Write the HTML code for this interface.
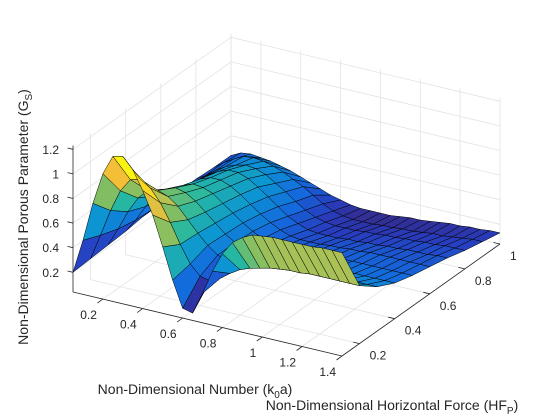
<!DOCTYPE html>
<html><head><meta charset="utf-8"><style>
html,body{margin:0;padding:0;background:#fff;}
svg{display:block;font-family:"Liberation Sans",Arial,sans-serif;}
</style></head><body>
<svg id="chart" width="560" height="420" viewBox="0 0 560 420" xmlns="http://www.w3.org/2000/svg">
<rect width="560" height="420" fill="#fff"/>
<g id="grid"></g>
<g id="axes"></g>
<g id="surf"></g>
<text x="195" y="394" font-size="14" text-anchor="middle" fill="#262626">Non-Dimensional Number (k<tspan font-size="10" dy="4">0</tspan><tspan dy="-4">a)</tspan></text>
<text x="392" y="410" font-size="14" text-anchor="middle" fill="#262626">Non-Dimensional Horizontal Force (HF<tspan font-size="10" dy="4">P</tspan><tspan dy="-4">)</tspan></text>
<text transform="translate(28,217) rotate(-90)" font-size="14" text-anchor="middle" fill="#262626">Non-Dimensional Porous Parameter (G<tspan font-size="10" dy="4">S</tspan><tspan dy="-4">)</tspan></text>
</svg>
<script>
// Data: x = k0a, y = HF_P, z = G_S
const xVals = [0.05,0.10,0.15,0.20,0.25,0.30,0.35,0.40,0.45,0.50,0.55,0.60,0.65,0.70,0.75,0.80,0.85,0.90,0.95,1.00,1.05,1.10,1.15,1.20,1.25,1.30,1.35,1.40];
const yVals = [0.1,0.2,0.3,0.4,0.5,0.6,0.7,0.8,0.9,1.0];
const gsY01 = [.20,.48,.80,1.06,1.22,1.24,1.15,1.00,.82,.58,.33,.12,.10,.28,.48,.64,.75,.81,.85,.86,.87,.87,.87,.87,.87,.88,.88,.88];
const gsY02 = [.21,.42,.64,.82,.93,.95,.90,.80,.66,.50,.36,.28,.26,.30,.36,.41,.44,.46,.48,.49,.50,.50,.51,.51,.51,.51,.51,.51];
const gsY03 = [.22,.37,.53,.66,.74,.76,.73,.67,.58,.49,.41,.35,.32,.32,.33,.35,.36,.37,.38,.39,.39,.40,.40,.40,.40,.40,.40,.40];
const gsY04 = [.23,.34,.47,.58,.65,.68,.66,.61,.54,.47,.40,.35,.32,.30,.30,.30,.31,.31,.32,.32,.32,.33,.33,.33,.33,.33,.33,.33];
const gsY05 = [.25,.33,.43,.52,.58,.61,.60,.57,.51,.45,.39,.34,.30,.28,.27,.27,.27,.28,.28,.28,.29,.29,.29,.29,.29,.29,.29,.29];
const gsY06 = [.25,.32,.40,.47,.53,.56,.56,.53,.48,.42,.36,.31,.27,.24,.23,.23,.23,.24,.24,.25,.25,.26,.26,.26,.26,.26,.26,.26];
const gsY07 = [.25,.31,.38,.44,.49,.52,.52,.49,.44,.38,.32,.26,.22,.19,.18,.18,.18,.19,.19,.20,.20,.21,.21,.22,.22,.22,.23,.23];
const gsY08 = [.25,.30,.36,.41,.44,.46,.45,.42,.37,.32,.26,.21,.17,.15,.14,.14,.14,.15,.15,.16,.16,.17,.17,.18,.18,.19,.19,.19];
const gsY09 = [.24,.30,.35,.39,.40,.39,.37,.34,.30,.26,.21,.16,.12,.10,.09,.09,.09,.10,.10,.11,.11,.12,.13,.13,.14,.15,.16,.16];
const gsY10 = [.24,.28,.29,.28,.27,.25,.23,.20,.17,.14,.11,.09,.07,.06,.06,.06,.06,.07,.08,.08,.09,.10,.11,.11,.12,.12,.13,.13];
const zRows = [gsY01,gsY02,gsY03,gsY04,gsY05,gsY06,gsY07,gsY08,gsY09,gsY10];
const xTicks = [0.2,0.4,0.6,0.8,1.0,1.2,1.4];
const xTickLabels = ["0.2","0.4","0.6","0.8","1","1.2","1.4"];
const yTicks = [0.2,0.4,0.6,0.8,1.0];
const yTickLabels = ["0.2","0.4","0.6","0.8","1"];
const zTicks = [0.2,0.4,0.6,0.8,1.0,1.2];
const zTickLabels = ["0.2","0.4","0.6","0.8","1","1.2"];

const X0=0.05,X1=1.40,Y0=0.1,Y1=1.0,Z0=0.04,Z1=1.23;
const OX=73,OY=292;
function P(x,y,z){
  const fx=(x-X0)/(X1-X0), fy=(y-Y0)/(Y1-Y0);
  return [OX+fx*269+fy*158, OY+fx*64-fy*112-(z-Z0)*123];
}
const NS="http://www.w3.org/2000/svg";
function mk(tag,attrs,parent){const e=document.createElementNS(NS,tag);for(const k in attrs)e.setAttribute(k,attrs[k]);parent.appendChild(e);return e;}
const gGrid=document.getElementById('grid'),gAx=document.getElementById('axes'),gS=document.getElementById('surf');
function line(p,q,col,w,parent,name){
  const l=mk('line',{x1:p[0].toFixed(1),y1:p[1].toFixed(1),x2:q[0].toFixed(1),y2:q[1].toFixed(1),stroke:col,'stroke-width':w},parent);
  
  
  return l;
}
const GC="#e3e3e3";
xTicks.forEach(t=>{
  line(P(t,Y0,Z0),P(t,Y1,Z0),GC,0.8,gGrid,'floor-grid-x');
  line(P(t,Y1,Z0),P(t,Y1,Z1),GC,0.8,gGrid,'wall-grid-x');
});
yTicks.forEach(t=>{
  line(P(X0,t,Z0),P(X1,t,Z0),GC,0.8,gGrid,'floor-grid-y');
  line(P(X0,t,Z0),P(X0,t,Z1),GC,0.8,gGrid,'wall-grid-y');
});
zTicks.forEach(t=>{
  line(P(X0,Y0,t),P(X0,Y1,t),GC,0.8,gGrid,'wall-grid-z-left');
  line(P(X0,Y1,t),P(X1,Y1,t),GC,0.8,gGrid,'wall-grid-z-back');
});
line(P(X0,Y1,Z0),P(X0,Y1,Z1),GC,0.8,gGrid,'wall-corner-line');
const AC="#262626";
line(P(X0,Y0,Z0),P(X1,Y0,Z0),AC,0.8,gAx,'x-axis-line');
line(P(X1,Y0,Z0),P(X1,Y1,Z0),AC,0.8,gAx,'y-axis-line');
line(P(X0,Y0,Z0),P(X0,Y0,Z1),AC,0.8,gAx,'z-axis-line');
function txt(s,x,y,anchor,parent,name){
  const t=mk('text',{x:x.toFixed(1),y:y.toFixed(1),'font-size':12,'text-anchor':anchor,fill:AC},parent);
  t.textContent=s;
  
  
}
xTicks.forEach((t,i)=>{
  const p=P(t,Y0,Z0);
  line(p,[p[0]-5.5,p[1]+4],AC,0.8,gAx,'x-tick');
  txt(xTickLabels[i],p[0]-6,p[1]+20,'end',gAx,'x-tick-label');
});
yTicks.forEach((t,i)=>{
  const p=P(X1,t,Z0);
  line(p,[p[0]-6.5,p[1]-1.5],AC,0.8,gAx,'y-tick');
  txt(yTickLabels[i],p[0]+10,p[1]+16,'start',gAx,'y-tick-label');
});
zTicks.forEach((t,i)=>{
  const p=P(X0,Y0,t);
  line(p,[p[0]-5.5,p[1]-1.3],AC,0.8,gAx,'z-tick');
  txt(zTickLabels[i],p[0]-14,p[1]+4.5,'end',gAx,'z-tick-label');
});
const cmap=[[0,53,42,135],[0.1,40,60,190],[0.22,20,105,220],[0.36,12,150,210],[0.5,40,185,160],[0.62,125,190,100],[0.75,205,195,75],[0.87,250,190,50],[1,249,251,14]];
function parula(f){
  f=Math.max(0,Math.min(1,f));
  for(let k=1;k<cmap.length;k++){
    if(f<=cmap[k][0]){const a=cmap[k-1],b=cmap[k],t=(f-a[0])/(b[0]-a[0]);
      return 'rgb('+[1,2,3].map(m=>Math.round(a[m]+(b[m]-a[m])*t)).join(',')+')';}
  }
  return 'rgb(249,251,14)';
}
let zmin=Infinity,zmax=-Infinity;
zRows.forEach(r=>r.forEach(v=>{zmin=Math.min(zmin,v);zmax=Math.max(zmax,v);}));
const faces=[];
for(let j=0;j<yVals.length-1;j++){
  for(let i=0;i<xVals.length-1;i++){
    const c=[[i,j],[i+1,j],[i+1,j+1],[i,j+1]];
    let d=0;const pts=c.map(([a,b])=>{
      const z=zRows[b][a],p=P(xVals[a],yVals[b],z),base=P(xVals[a],yVals[b],Z0);
      d+=2*base[1]+0.58*123*(z-Z0);return p;});
    faces.push({pts,d,col:parula((zRows[j][i]-zmin)/(zmax-zmin))});
  }
}
faces.sort((a,b)=>a.d-b.d);
faces.forEach(f=>{
  const poly=mk('polygon',{points:f.pts.map(p=>p[0].toFixed(1)+','+p[1].toFixed(1)).join(' '),fill:f.col,stroke:'#000','stroke-width':0.5,'stroke-linejoin':'round'},gS);
  
  
});
</script>
</body></html>
